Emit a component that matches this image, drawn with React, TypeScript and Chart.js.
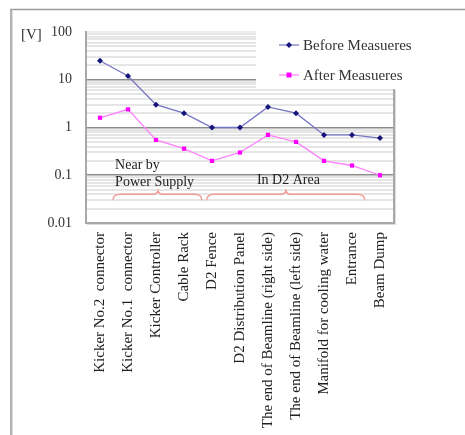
import React, { useEffect, useRef } from 'react';
import { Chart, registerables } from 'chart.js';

Chart.register(...registerables);

const categories = [
  'Kicker No.2  connector',
  'Kicker No.1  connector',
  'Kicker Controller',
  'Cable Rack',
  'D2 Fence',
  'D2 Distribution Panel',
  'The end of Beamline (right side)',
  'The end of Beamline (left side)',
  'Manifold for cooling water',
  'Entrance',
  'Beam Dump',
];
const beforeValues = [25, 12, 3, 2, 1, 1, 2.7, 2, 0.7, 0.7, 0.6];
const afterValues = [1.6, 2.4, 0.55, 0.36, 0.2, 0.3, 0.7, 0.5, 0.2, 0.16, 0.1];
const majorTickLabels = ['0.01', '0.1', '1', '10', '100'];
const seriesNames = ['Before Measueres', 'After Measueres'];
const unitLabel = '[V]';

const textNotes = [
  { text: 'Near by', x: 0.54, y: 0.164, align: 'left' },
  { text: 'Power Supply', x: 0.54, y: 0.072, align: 'left' },
  { text: 'In D2 Area', x: 6.73, y: 0.079, align: 'center' },
];
const braces = [
  { from: 0.46, to: 3.64, mid: 2.07, level: 0.04 },
  { from: 3.81, to: 9.46, mid: 6.64, level: 0.04 },
];

const SERIF = '"Liberation Serif", "Times New Roman", serif';

const decorPlugin = {
  id: 'decor',
  beforeDraw(chart: any) {
    const ctx = chart.ctx;
    ctx.save();
    ctx.fillStyle = '#ffffff';
    ctx.fillRect(0, 0, chart.width, chart.height);
    // outer frame (top & left)
    ctx.strokeStyle = '#9a9a9a';
    ctx.lineWidth = 1.5;
    ctx.beginPath();
    ctx.moveTo(11, chart.height);
    ctx.lineTo(11, 9.5);
    ctx.lineTo(chart.width, 9.5);
    ctx.stroke();
    ctx.strokeStyle = '#e0e0e0';
    ctx.lineWidth = 1;
    ctx.beginPath();
    ctx.moveTo(12.5, chart.height);
    ctx.lineTo(12.5, 11);
    ctx.stroke();
    ctx.restore();
  },
  afterDraw(chart: any) {
    const ctx = chart.ctx;
    const xs = chart.scales.x;
    const ys = chart.scales.y;
    const area = chart.chartArea;
    ctx.save();

    // unit label
    ctx.fillStyle = '#333333';
    ctx.font = `15px ${SERIF}`;
    ctx.textAlign = 'left';
    ctx.textBaseline = 'middle';
    ctx.fillText(unitLabel, 21, 35);

    // legend box
    ctx.fillStyle = '#ffffff';
    ctx.fillRect(256, area.top - 4, 146, 89 - (area.top - 4));
    // right plot border below legend
    ctx.strokeStyle = '#a8a8a8';
    ctx.lineWidth = 2;
    ctx.beginPath();
    ctx.moveTo(area.right, 89);
    ctx.lineTo(area.right, area.bottom);
    ctx.stroke();
    ctx.strokeStyle = '#dcdcdc';
    ctx.lineWidth = 1;
    ctx.beginPath();
    ctx.moveTo(area.right + 1.5, 90);
    ctx.lineTo(area.right + 1.5, area.bottom + 1.5);
    ctx.lineTo(area.left + 1, area.bottom + 1.5);
    ctx.stroke();

    // legend items
    const ds = chart.data.datasets;
    const legendY = [45, 75];
    ds.forEach((d: any, i: number) => {
      const y = legendY[i];
      ctx.strokeStyle = d.borderColor;
      ctx.lineWidth = 1.2;
      ctx.beginPath();
      ctx.moveTo(279, y);
      ctx.lineTo(299, y);
      ctx.stroke();
      ctx.fillStyle = d.pointBackgroundColor;
      if (d.pointStyle === 'rect') {
        ctx.fillRect(286.5, y - 2.5, 5, 5);
      } else {
        ctx.beginPath();
        ctx.moveTo(289, y - 3);
        ctx.lineTo(292, y);
        ctx.lineTo(289, y + 3);
        ctx.lineTo(286, y);
        ctx.closePath();
        ctx.fill();
      }
      ctx.fillStyle = '#333333';
      ctx.font = `15px ${SERIF}`;
      ctx.textAlign = 'left';
      ctx.textBaseline = 'middle';
      ctx.fillText(seriesNames[i], 303, y + 1);
    });

    // braces
    ctx.strokeStyle = '#f29a94';
    ctx.lineWidth = 1.4;
    braces.forEach((b) => {
      const x1 = xs.getPixelForValue(b.from);
      const x2 = xs.getPixelForValue(b.to);
      const xm = xs.getPixelForValue(b.mid);
      const yl = ys.getPixelForValue(b.level);
      const yEnd = yl + 6;
      const yPeak = yl - 3.5;
      ctx.beginPath();
      ctx.moveTo(x1, yEnd);
      ctx.quadraticCurveTo(x1, yl, x1 + 8, yl);
      ctx.lineTo(xm - 5, yl);
      ctx.quadraticCurveTo(xm - 1, yl, xm, yPeak);
      ctx.quadraticCurveTo(xm + 1, yl, xm + 5, yl);
      ctx.lineTo(x2 - 8, yl);
      ctx.quadraticCurveTo(x2, yl, x2, yEnd);
      ctx.stroke();
    });

    // text notes
    ctx.fillStyle = '#222222';
    ctx.font = `14px ${SERIF}`;
    ctx.textBaseline = 'middle';
    textNotes.forEach((n) => {
      ctx.textAlign = n.align as CanvasTextAlign;
      ctx.fillText(n.text, xs.getPixelForValue(n.x), ys.getPixelForValue(n.y));
    });
    ctx.restore();
  },
};

export default function App() {
  const canvasRef = useRef<HTMLCanvasElement | null>(null);

  useEffect(() => {
    const canvas = canvasRef.current;
    if (!canvas) return;
    const majors = majorTickLabels.map(Number);
    const chart = new Chart(canvas, {
      type: 'line',
      data: {
        labels: categories,
        datasets: [
          {
            label: seriesNames[0],
            data: beforeValues,
            borderColor: '#7474c4',
            borderWidth: 1.3,
            pointBackgroundColor: '#14147a',
            pointBorderColor: '#14147a',
            pointStyle: 'rectRot',
            pointRadius: 3,
            pointBorderWidth: 0,
            tension: 0,
          },
          {
            label: seriesNames[1],
            data: afterValues,
            borderColor: '#ff80ff',
            borderWidth: 1.3,
            pointBackgroundColor: '#ff00ff',
            pointBorderColor: '#ff00ff',
            pointStyle: 'rect',
            pointRadius: 3,
            pointBorderWidth: 0,
            tension: 0,
          },
        ],
      },
      options: {
        responsive: false,
        animation: false,
        devicePixelRatio: 1,
        layout: { padding: { left: 0, top: 32, right: 71, bottom: 0 } },
        plugins: {
          legend: { display: false },
          tooltip: { enabled: false },
        },
        scales: {
          x: {
            type: 'category',
            offset: true,
            grid: { display: false, drawTicks: false },
            border: { display: true, color: '#a8a8a8', width: 2 },
            ticks: {
              autoSkip: false,
              minRotation: 90,
              maxRotation: 90,
              padding: 9,
              color: '#222222',
              font: { family: SERIF, size: 15 },
            },
            afterFit: (scale: any) => {
              scale.height = 212;
            },
          },
          y: {
            type: 'logarithmic',
            min: 0.01,
            max: 100,
            afterBuildTicks: (scale: any) => {
              const ticks: any[] = [];
              for (let e = -2; e <= 1; e++) {
                for (let m = 1; m <= 9; m++) {
                  ticks.push({ value: Number((m * Math.pow(10, e)).toPrecision(3)) });
                }
              }
              ticks.push({ value: 100 });
              scale.ticks = ticks;
            },
            afterFit: (scale: any) => {
              scale.width = 86;
            },
            grid: {
              drawTicks: false,
              color: (c: any) => {
                const v = c.tick ? c.tick.value : 0;
                if (v === 100 || v === 0.01) return '#ececec';
                return majors.includes(v) ? '#8a8a8a' : '#e6e6e6';
              },
              lineWidth: (c: any) => {
                const v = c.tick ? c.tick.value : 0;
                if (v === 100 || v === 0.01) return 2;
                return majors.includes(v) ? 1.6 : 2;
              },
            },
            border: { display: true, color: '#a8a8a8', width: 2 },
            ticks: {
              autoSkip: false,
              padding: 14,
              color: '#333333',
              font: { family: SERIF, size: 14 },
              callback: (v: any) => {
                const idx = majors.indexOf(Number(v));
                return idx >= 0 ? majorTickLabels[idx] : '';
              },
            },
          },
        },
      },
      plugins: [decorPlugin],
    });
    return () => chart.destroy();
  }, []);

  return (
    <div style={{ position: 'absolute', left: 0, top: 0, width: 465, height: 435 }}>
      <canvas ref={canvasRef} width={465} height={435} style={{ width: 465, height: 435 }} />
    </div>
  );
}
